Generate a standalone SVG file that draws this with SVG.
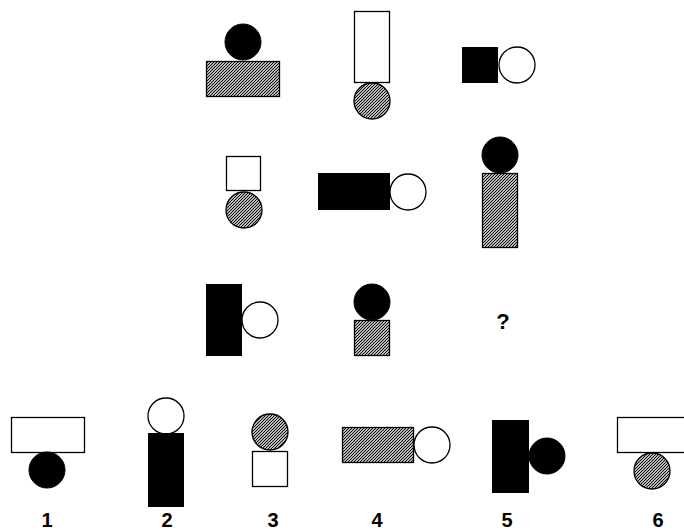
<svg xmlns="http://www.w3.org/2000/svg" width="684" height="532" viewBox="0 0 684 532">
<defs>
<pattern id="hatch" width="3" height="3" patternUnits="userSpaceOnUse">
<rect width="3" height="3" fill="#fff"/>
<path d="M-1,1 L1,-1 M0,3 L3,0 M2,4 L4,2" stroke="#000" stroke-width="1.1"/>
</pattern>
</defs>
<style>
.b{fill:#000;stroke:#000;stroke-width:1}
.w{fill:#fff;stroke:#000;stroke-width:1.3}
.h{fill:url(#hatch);stroke:#000;stroke-width:1.3}
.t{font-family:"Liberation Sans",Arial,sans-serif;font-weight:bold;font-size:20px;text-anchor:middle;fill:#000}
.q{font-size:22px}
</style>
<rect width="684" height="532" fill="#fff"/>
<g id="r1c1"><rect class="h" x="206.5" y="61.5" width="73" height="35"/><circle class="b" cx="243" cy="42" r="18"/></g>
<g id="r1c2"><rect class="w" x="354.5" y="11.5" width="35" height="71"/><circle class="h" cx="372" cy="101" r="18"/></g>
<g id="r1c3"><rect class="b" x="462.5" y="47.5" width="35" height="35"/><circle class="w" cx="517" cy="65" r="18"/></g>
<g id="r2c1"><rect class="w" x="226.5" y="156.5" width="34" height="34"/><circle class="h" cx="244" cy="210" r="18"/></g>
<g id="r2c2"><rect class="b" x="318.5" y="173.5" width="71" height="36"/><circle class="w" cx="408" cy="192" r="18"/></g>
<g id="r2c3"><rect class="h" x="482.5" y="173.5" width="35" height="74"/><circle class="b" cx="500" cy="155" r="18"/></g>
<g id="r3c1"><rect class="b" x="206.5" y="284.5" width="35" height="71"/><circle class="w" cx="260" cy="320" r="18"/></g>
<g id="r3c2"><rect class="h" x="354.5" y="320.5" width="35" height="35"/><circle class="b" cx="372" cy="302" r="18"/></g>
<g id="r3c3"><text class="t q" x="503" y="329">?</text></g>
<g id="opt1"><rect class="w" x="11.5" y="417.5" width="73" height="35"/><circle class="b" cx="47" cy="470" r="18"/><text class="t" x="47" y="527">1</text></g>
<g id="opt2"><circle class="w" cx="166" cy="416" r="18"/><rect class="b" x="148.5" y="433.5" width="35" height="73"/><text class="t" x="167" y="527">2</text></g>
<g id="opt3"><circle class="h" cx="270" cy="432" r="18"/><rect class="w" x="252.5" y="451.5" width="35" height="35"/><text class="t" x="273" y="527">3</text></g>
<g id="opt4"><rect class="h" x="342.5" y="427.5" width="71" height="35"/><circle class="w" cx="432" cy="445" r="18"/><text class="t" x="377" y="527">4</text></g>
<g id="opt5"><rect class="b" x="492.5" y="420.5" width="36" height="72"/><circle class="b" cx="547" cy="456" r="18"/><text class="t" x="507" y="527">5</text></g>
<g id="opt6"><rect class="w" x="617.5" y="417.5" width="73" height="35"/><circle class="h" cx="652" cy="471" r="18"/><text class="t" x="658" y="527">6</text></g>
<g id="connectors"></g>
</svg>
